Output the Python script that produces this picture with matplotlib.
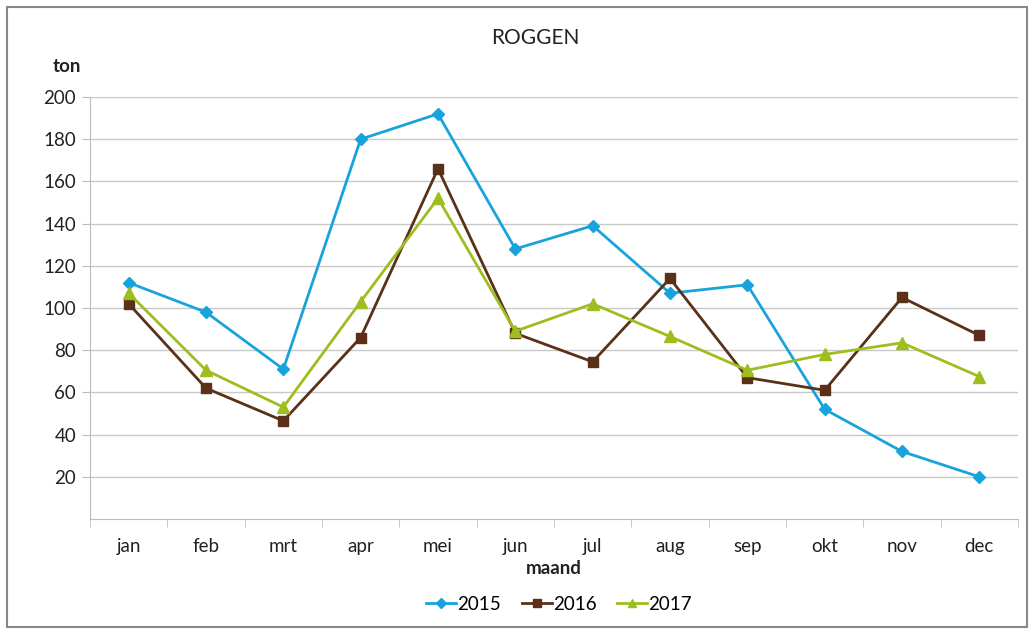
import matplotlib
matplotlib.use("Agg")
import matplotlib.pyplot as plt
from matplotlib.patches import Rectangle
import numpy as np

plt.rcParams['font.family'] = ['Lato', 'DejaVu Sans']

months = ["jan", "feb", "mrt", "apr", "mei", "jun", "jul", "aug", "sep", "okt", "nov", "dec"]
y2015 = [112, 98, 71, 180, 192, 128, 139, 107, 111, 52, 32, 20]
y2016 = [102, 62, 46.5, 86, 166, 88, 74.5, 114, 67, 61, 105, 87]
y2017 = [107, 70.5, 53, 103, 152, 89, 102, 86.5, 70.5, 78, 83.5, 67.5]
yticks = [20, 40, 60, 80, 100, 120, 140, 160, 180, 200]

fig = plt.figure(figsize=(10.29, 6.30), dpi=100)
ax = fig.add_axes([90/1029, 1 - 519/630, (1018-90)/1029, (519-97)/630])

x = np.arange(len(months))
ax.plot(x, y2015, color="#18A3DD", marker="D", markersize=6, linewidth=2, label="2015")
ax.plot(x, y2016, color="#5A3018", marker="s", markersize=7.5, linewidth=2, label="2016")
ax.plot(x, y2017, color="#9DBE1E", marker="^", markersize=8, linewidth=2, label="2017")

ax.set_xlim(-0.5, 11.5)
ax.set_ylim(0, 200)
ax.set_yticks(yticks)
ax.set_yticklabels([str(t) for t in yticks], fontsize=13.5, color="#222222")
ax.yaxis.grid(True, color="#C8C8C8", linewidth=1)
ax.set_axisbelow(True)
ax.set_xticks(x)
ax.set_xticklabels(months, fontsize=13.5, color="#222222")
ax.set_xticks(np.arange(-0.5, 12, 1), minor=True)
ax.tick_params(axis="x", which="major", length=0, pad=14)
ax.tick_params(axis="x", which="minor", length=6, color="#BBBBBB", direction="out")
ax.tick_params(axis="y", length=6, color="#BBBBBB", pad=4)
for s in ["top", "right"]:
    ax.spines[s].set_visible(False)
for s in ["left", "bottom"]:
    ax.spines[s].set_color("#BBBBBB")

ax.set_xlabel("maand", fontsize=13.5, fontweight="bold", labelpad=3, color="#222222")
fig.text(67/1029, 1 - 67/630, "ton", fontsize=13.5, fontweight="bold", ha="center", va="center", color="#222222")
fig.text(535/1029, 1 - 38/630, "ROGGEN", fontsize=15, ha="center", va="center", color="#222222")

leg = fig.legend(loc="center", bbox_to_anchor=(559/1029, 1 - 604/630), ncol=3, frameon=False,
                 fontsize=13.5, handlelength=1.6, handletextpad=0.05, columnspacing=1.1, markerscale=0.8)

fig.patches.append(Rectangle((7/1029, 3/630), 1020/1029, 620/630, transform=fig.transFigure,
                             fill=False, edgecolor="#888888", linewidth=1.5))

fig.savefig("out.png", dpi=100)
